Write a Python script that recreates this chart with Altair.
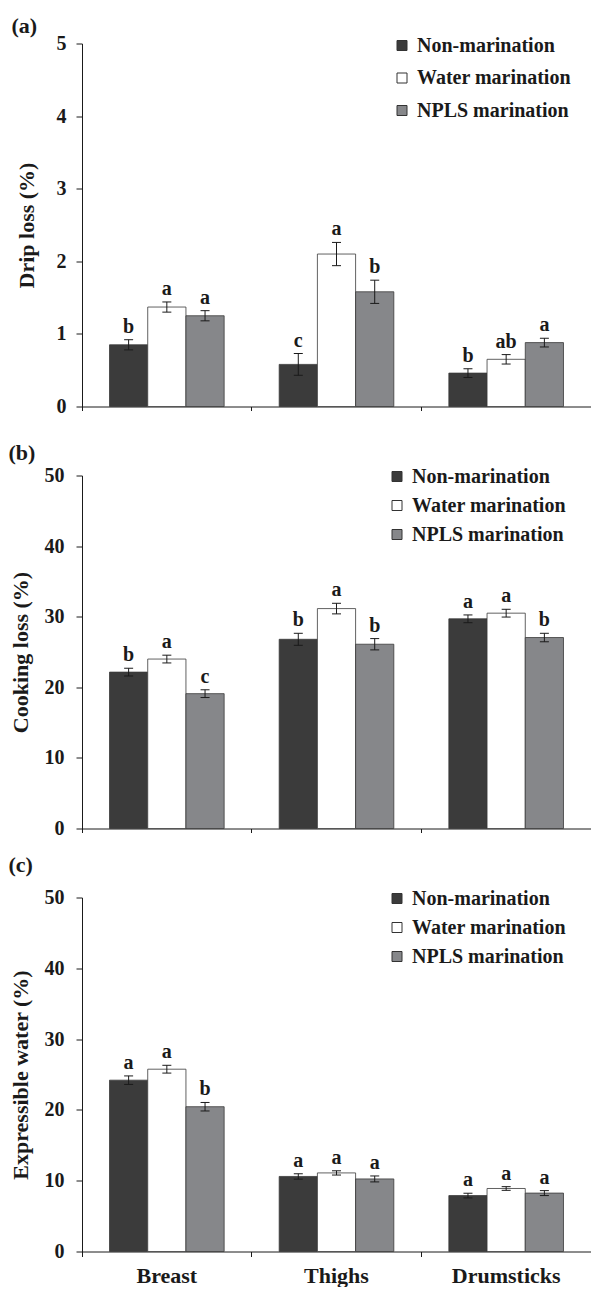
import altair as alt
import pandas as pd

parts = ["Breast", "Thighs", "Drumsticks"]
treatments = ["Non-marination", "Water marination", "NPLS marination"]
bar_colors = ["#3b3b3b", "#ffffff", "#86878a"]

# values listed per part (Breast, Thighs, Drumsticks), each with the three treatments
drip_mean = [0.85, 1.37, 1.25, 0.58, 2.10, 1.58, 0.46, 0.65, 0.88]
drip_err = [0.07, 0.07, 0.07, 0.15, 0.16, 0.16, 0.06, 0.065, 0.06]
drip_letters = ["b", "a", "a", "c", "a", "b", "b", "ab", "a"]

cook_mean = [22.15, 24.0, 19.1, 26.8, 31.15, 26.1, 29.7, 30.5, 27.05]
cook_err = [0.55, 0.55, 0.55, 0.85, 0.75, 0.8, 0.55, 0.55, 0.6]
cook_letters = ["b", "a", "c", "b", "a", "b", "a", "a", "b"]

ew_mean = [24.2, 25.75, 20.45, 10.6, 11.1, 10.25, 7.9, 8.9, 8.25]
ew_err = [0.6, 0.55, 0.6, 0.38, 0.3, 0.42, 0.33, 0.26, 0.35]
ew_letters = ["a", "a", "b", "a", "a", "a", "a", "a", "a"]

drip_ticks = [0, 1, 2, 3, 4, 5]
pct_ticks = [0, 10, 20, 30, 40, 50]

FONT = "Liberation Serif"
INK = "#1a1a1a"


def make_df(means, errs, letters):
    rows = []
    for i, p in enumerate(parts):
        for j, t in enumerate(treatments):
            k = i * 3 + j
            rows.append({"part": p, "treatment": t, "mean": means[k],
                         "lo": means[k] - errs[k], "hi": means[k] + errs[k],
                         "letter": letters[k]})
    return pd.DataFrame(rows)


def panel(tag, means, errs, letters, ytitle, ticks, width, height, tag_dx, tag_offset,
          title_pad, label_pad, legend_x, legend_y, row_pad, show_labels, x_tick, spacer):
    df = make_df(means, errs, letters)
    ymax = ticks[-1]
    xaxis_kwargs = dict(labels=show_labels, bandPosition=0, ticks=True, tickSize=x_tick,
                        tickColor=INK, domainColor=INK, domainWidth=1, tickWidth=1,
                        labelAngle=0, labelFont=FONT, labelFontSize=22, labelFontWeight="bold",
                        labelColor=INK, labelPadding=9)
    if spacer:
        xaxis_kwargs.update(title=".", titleOpacity=0, titleFontSize=10, titlePadding=5)
    else:
        xaxis_kwargs.update(title=None)
    x = alt.X("part:N", sort=parts, scale=alt.Scale(paddingInner=0, paddingOuter=0),
              axis=alt.Axis(**xaxis_kwargs))
    xo = alt.XOffset("treatment:N", sort=treatments,
                     scale=alt.Scale(domain=treatments, paddingInner=0, paddingOuter=0.72))
    yscale = alt.Scale(domain=[0, ymax], nice=False)
    yaxis = alt.Axis(values=ticks, grid=False, tickSize=6, tickColor=INK, domainColor=INK,
                     labelFont=FONT, labelFontSize=20, labelFontWeight="bold", labelColor=INK,
                     labelPadding=label_pad, titleFont=FONT, titleFontSize=22,
                     titleFontWeight="bold", titleColor=INK, titlePadding=title_pad)

    def Y(field):
        return alt.Y(field, scale=yscale, axis=yaxis, title=ytitle)

    color = alt.Color("treatment:N", sort=treatments,
                      scale=alt.Scale(domain=treatments, range=bar_colors),
                      legend=alt.Legend(title=None, orient="none", legendX=legend_x, legendY=legend_y,
                                        symbolType="square", symbolSize=100, symbolStrokeColor="#333333",
                                        symbolStrokeWidth=1, labelFont=FONT, labelFontSize=20,
                                        labelFontWeight="bold", labelColor=INK, rowPadding=row_pad,
                                        labelOffset=5, padding=0))
    base = alt.Chart(df)
    bars = base.mark_bar(stroke="#3a3a3a", strokeWidth=0.8).encode(
        x=x, xOffset=xo, y=Y("mean:Q"), color=color)
    rules = base.mark_rule(color=INK, strokeWidth=1).encode(
        x=x, xOffset=xo, y=Y("lo:Q"), y2="hi:Q")
    cap_hi = base.mark_tick(color=INK, thickness=1, size=9, opacity=1).encode(
        x=x, xOffset=xo, y=Y("hi:Q"))
    cap_lo = base.mark_tick(color=INK, thickness=1, size=9, opacity=1).encode(
        x=x, xOffset=xo, y=Y("lo:Q"))
    text = base.mark_text(font=FONT, fontSize=20, fontWeight="bold", baseline="alphabetic",
                          dy=-7, color=INK).encode(
        x=x, xOffset=xo, y=Y("hi:Q"), text="letter:N")
    return alt.layer(bars, rules, cap_hi, cap_lo, text).properties(
        width=width, height=height,
        title=alt.TitleParams(tag, anchor="start", frame="group", dx=tag_dx, offset=tag_offset,
                              font=FONT, fontSize=22, fontWeight="bold", color=INK))


pa = panel("(a)", drip_mean, drip_err, drip_letters, "Drip loss (%)", drip_ticks, 509, 363,
           -70.5, -4.5, 17.5, 10, 310, -8, 12.5, False, 4, True)
pb = panel("(b)", cook_mean, cook_err, cook_letters, "Cooking loss (%)", pct_ticks, 509, 353,
           -73.5, 1, 11.5, 12, 305, -9, 9, False, 4, False)
pc = panel("(c)", ew_mean, ew_err, ew_letters, "Expressible water (%)", pct_ticks, 509, 354,
           -73.5, 11, 12, 12, 305, -9, 9, True, 5, False)

chart = alt.vconcat(pa, pb, pc, spacing=15).resolve_scale(color="independent").resolve_legend(
    color="independent").properties(
    padding={"left": 0, "top": 6.5, "right": 0, "bottom": 0}
).configure_view(stroke=None).configure_axis(grid=False)

chart.save("out.html", embed_options={"renderer": "svg", "actions": False})
